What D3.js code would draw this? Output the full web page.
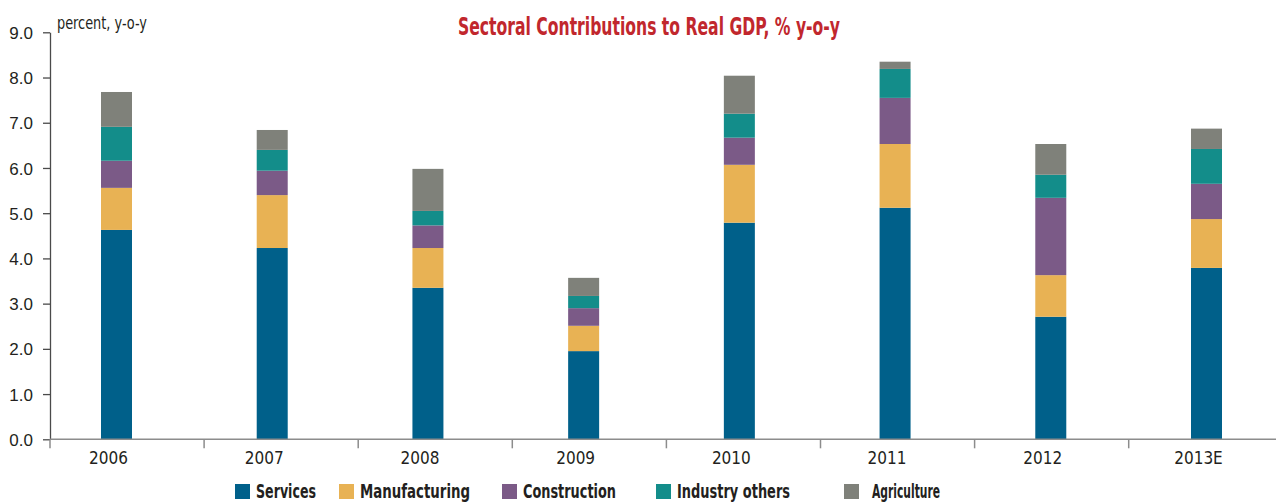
<!DOCTYPE html>
<html>
<head>
<meta charset="utf-8">
<script src="https://cdn.jsdelivr.net/npm/d3@7"></script>
<style>
  body { margin: 0; background: #fff; }
  svg { display: block; font-family: "Liberation Sans Narrow", "DejaVu Sans Condensed", "Roboto", sans-serif; }
</style>
</head>
<body>
<svg id="chart" width="1276" height="502"></svg>
<script>
// values
const years = ["2006", "2007", "2008", "2009", "2010", "2011", "2012", "2013E"];
const services = [4.63, 4.23, 3.35, 1.95, 4.79, 5.12, 2.71, 3.79];
const manufacturing = [0.93, 1.17, 0.88, 0.56, 1.28, 1.41, 0.92, 1.08];
const construction = [0.60, 0.54, 0.50, 0.39, 0.60, 1.02, 1.71, 0.78];
const industryOthers = [0.75, 0.46, 0.32, 0.27, 0.53, 0.64, 0.51, 0.77];
const agriculture = [0.77, 0.44, 0.93, 0.40, 0.84, 0.16, 0.68, 0.45];
const seriesNames = ["Services", "Manufacturing", "Construction", "Industry others", "Agriculture"];
const yTicks = [0, 1, 2, 3, 4, 5, 6, 7, 8, 9];

const colors = ["#00608a", "#e8b254", "#7b5a87", "#138d8a", "#7f817a"];
// legend item offsets (layout only)
const legendX = [235, 339, 502, 656, 844];
const legendW = [60, 110, 93, 113, 68];

const svg = d3.select("#chart");
const W = 1276;

const table = years.map((yr, i) => ({
    year: yr,
    "Services": services[i],
    "Manufacturing": manufacturing[i],
    "Construction": construction[i],
    "Industry others": industryOthers[i],
    "Agriculture": agriculture[i]
}));
const stacked = d3.stack().keys(seriesNames)(table);

const y = d3.scaleLinear().domain([0, 9]).range([439.3, 32.3]);
// axis categories (tick marks at band edges)
const xBand = d3.scaleBand().domain(years).range([50, 50 + 8 * 154.1]);
// bar centres
const xBar = d3.scalePoint().domain(years).range([116.5, 1206.5]);
const barW = 31;

// bars
svg.append("g").selectAll("g")
    .data(stacked)
    .enter().append("g")
        .attr("fill", (d, i) => colors[i])
    .selectAll("rect")
    .data(d => d)
    .enter().append("rect")
        .attr("x", d => xBar(d.data.year) - barW / 2)
        .attr("width", barW)
        .attr("y", d => y(d[1]))
        .attr("height", d => y(d[0]) - y(d[1]));

// y axis
const yAxis = svg.append("g")
    .attr("transform", "translate(50,0)")
    .call(d3.axisLeft(y).tickValues(yTicks).tickFormat(d3.format(".1f")).tickSize(7).tickSizeOuter(0).tickPadding(10));
yAxis.select(".domain").attr("stroke", "#4a4a4a").attr("stroke-width", 1.3);
yAxis.selectAll(".tick line").attr("stroke", "#4a4a4a").attr("stroke-width", 1.3);
yAxis.selectAll(".tick text")
    .attr("fill", "#231f20")
    .style("font-size", "17px")
    .attr("dy", "0.36em");

// x axis
const xAxis = svg.append("g");
xAxis.append("line")
    .attr("x1", 50).attr("x2", W)
    .attr("y1", y(0)).attr("y2", y(0))
    .attr("stroke", "#8c8c8c").attr("stroke-width", 1.5);
xAxis.selectAll("line.tick")
    .data(years)
    .enter().append("line")
        .attr("class", "tick")
        .attr("x1", d => xBand(d)).attr("x2", d => xBand(d))
        .attr("y1", y(0)).attr("y2", y(0) + 9)
        .attr("stroke", "#8c8c8c").attr("stroke-width", 1.5);
xAxis.selectAll("text")
    .data(years)
    .enter().append("text")
        .attr("x", d => xBar(d) - 8)
        .attr("y", 464)
        .attr("text-anchor", "middle")
        .attr("fill", "#231f20")
        .style("font-size", "17px")
        .text(d => d);

// unit label
svg.append("text")
    .attr("x", 57).attr("y", 29)
    .attr("fill", "#231f20")
    .style("font-size", "17px")
    .attr("textLength", 90)
    .attr("lengthAdjust", "spacingAndGlyphs")
    .text("percent, y-o-y");

// title
svg.append("text")
    .attr("x", 458).attr("y", 35)
    .attr("fill", "#c1272d")
    .style("font-size", "25px")
    .style("font-weight", "bold")
    .attr("textLength", 382)
    .attr("lengthAdjust", "spacingAndGlyphs")
    .text("Sectoral Contributions to Real GDP, % y-o-y");

// legend
const legend = svg.append("g").selectAll("g")
    .data(seriesNames)
    .enter().append("g")
        .attr("transform", (d, i) => `translate(${legendX[i]},484)`);
legend.append("rect")
    .attr("width", 15).attr("height", 15)
    .attr("fill", (d, i) => colors[i]);
legend.append("text")
    .attr("x", (d, i) => i == 4 ? 28 : 21)
    .attr("y", 14)
    .attr("fill", "#231f20")
    .style("font-size", "19px")
    .style("font-weight", "bold")
    .attr("textLength", (d, i) => legendW[i])
    .attr("lengthAdjust", "spacingAndGlyphs")
    .text(d => d);
</script>
</body>
</html>
